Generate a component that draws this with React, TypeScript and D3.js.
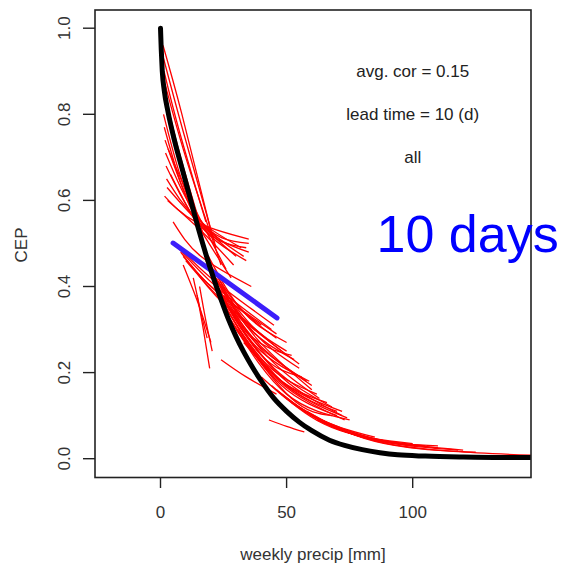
import * as d3 from "d3";

// black reference curve (weekly precip [mm] vs CEP)
const blackX = [0, 0.3, 0.7, 1.5, 3, 5.5, 8.5, 12, 15, 18, 21, 24, 27, 30, 33, 36, 40, 45, 50, 55, 60, 67, 73, 80, 87, 94, 105, 120, 135, 147];
const blackY = [1.0, 0.95, 0.9, 0.855, 0.805, 0.74, 0.675, 0.6, 0.535, 0.475, 0.42, 0.37, 0.323, 0.283, 0.248, 0.217, 0.18, 0.14, 0.11, 0.085, 0.065, 0.043, 0.031, 0.021, 0.014, 0.009, 0.006, 0.004, 0.003, 0.003];

// blue fitted segment
const blueX = [5, 46.2];
const blueY = [0.501, 0.327];

// red member curves: [start, middle, end] as [precip, CEP]
const redCurves: [number, number][][] = [
  // upper, right of black
  [[1.0, 0.96], [8.5, 0.8], [20, 0.53]],
  [[1.2, 0.93], [9, 0.76], [22, 0.49]],
  [[1.4, 0.9], [7.5, 0.76], [18, 0.55]],
  [[1.8, 0.87], [10, 0.7], [24, 0.45]],
  [[2.0, 0.84], [8, 0.7], [17, 0.52]],
  // left fan ending near 35 mm
  [[1.2, 0.8], [15, 0.56], [35, 0.5]],
  [[1.5, 0.77], [15, 0.55], [34, 0.49]],
  [[1.8, 0.74], [16, 0.55], [35, 0.48]],
  [[2.0, 0.71], [15, 0.56], [33, 0.47]],
  [[2.2, 0.68], [16, 0.54], [34, 0.46]],
  [[2.4, 0.65], [14, 0.56], [32, 0.49]],
  [[2.6, 0.63], [15, 0.55], [30, 0.47]],
  [[1.6, 0.61], [14, 0.55], [35, 0.51]],
  [[2.8, 0.6], [16, 0.53], [29, 0.45]],
  [[3.0, 0.72], [12, 0.6], [26, 0.44]],
  [[4.0, 0.66], [14, 0.55], [28, 0.42]],
  // middle group, left of black / under blue
  [[5, 0.55], [16, 0.47], [36, 0.4]],
  [[6, 0.5], [20, 0.42], [45, 0.31]],
  [[7, 0.49], [22, 0.4], [44, 0.3]],
  [[8, 0.48], [20, 0.4], [40, 0.31]],
  [[9, 0.47], [22, 0.39], [46, 0.29]],
  [[10, 0.46], [24, 0.37], [42, 0.28]],
  [[12, 0.45], [25, 0.36], [48, 0.25]],
  [[15.5, 0.4], [18, 0.32], [20.5, 0.25]],
  [[14.5, 0.38], [17, 0.3], [19.5, 0.21]],
  [[13, 0.42], [16, 0.34], [18.5, 0.28]],
  [[9, 0.45], [15, 0.36], [20, 0.27]],
  [[24, 0.23], [34, 0.19], [46, 0.15]],
  [[43, 0.09], [50, 0.075], [57, 0.062]],
  // right of black, main mass
  [[17, 0.48], [30, 0.36], [46, 0.28]],
  [[18, 0.46], [32, 0.33], [50, 0.25]],
  [[19, 0.45], [34, 0.31], [53, 0.23]],
  [[20, 0.43], [35, 0.29], [52, 0.24]],
  [[21, 0.42], [36, 0.28], [58, 0.18]],
  [[22, 0.4], [38, 0.26], [59, 0.18]],
  [[23, 0.39], [40, 0.24], [56, 0.19]],
  [[24, 0.37], [42, 0.22], [62, 0.15]],
  [[25, 0.36], [44, 0.2], [66, 0.13]],
  [[26, 0.35], [46, 0.19], [72, 0.11]],
  [[27, 0.33], [47, 0.18], [73, 0.09]],
  [[28, 0.32], [48, 0.17], [70, 0.1]],
  [[29, 0.31], [50, 0.15], [75, 0.09]],
  [[30, 0.3], [52, 0.14], [68, 0.1]],
  [[24, 0.38], [40, 0.26], [60, 0.17]],
  [[22, 0.42], [36, 0.31], [55, 0.22]],
  [[19, 0.47], [33, 0.34], [50, 0.27]],
  [[21, 0.44], [36, 0.3], [55, 0.21]],
  [[23, 0.41], [38, 0.28], [60, 0.16]],
  [[25, 0.38], [42, 0.24], [63, 0.14]],
  [[27, 0.35], [45, 0.21], [68, 0.12]],
  [[29, 0.33], [48, 0.19], [72, 0.1]],
  [[31, 0.3], [50, 0.17], [70, 0.11]],
  [[33, 0.27], [52, 0.16], [74, 0.095]],
  // tail
  [[40, 0.19], [60, 0.1], [85, 0.05]],
  [[44, 0.17], [65, 0.08], [90, 0.04]],
  [[46, 0.16], [70, 0.07], [100, 0.035]],
  [[48, 0.15], [72, 0.065], [105, 0.03]],
  [[50, 0.14], [75, 0.06], [110, 0.025]],
  [[52, 0.13], [80, 0.05], [118, 0.02]],
  [[55, 0.12], [85, 0.04], [125, 0.015]],
  [[58, 0.11], [90, 0.035], [147, 0.008]],
  [[60, 0.1], [85, 0.045], [110, 0.03]],
  [[62, 0.09], [80, 0.05], [100, 0.03]],
  [[64, 0.085], [90, 0.04], [120, 0.02]],
];

const xTicks = [0, 50, 100];
const yTicks = [0, 0.2, 0.4, 0.6, 0.8, 1.0];
const notes = ["avg. cor = 0.15", "lead time = 10 (d)", "all"];
const noteY = [0.9, 0.8, 0.7];
const noteX = 100;

const W = 562;
const H = 569;
const box = { left: 95, top: 10, right: 531, bottom: 477.5 };
const font = "'Liberation Sans', Arial, Helvetica, sans-serif";

export default function App() {
  const x = d3.scaleLinear().domain([0, 100]).range([160.5, 412.7]);
  const y = d3.scaleLinear().domain([0, 1]).range([458.7, 28.2]);

  const straight = d3
    .line<[number, number]>()
    .x((d) => x(d[0]))
    .y((d) => y(d[1]));
  const smooth = d3
    .line<[number, number]>()
    .x((d) => x(d[0]))
    .y((d) => y(d[1]))
    .curve(d3.curveMonotoneX);
  const redLine = d3
    .line<[number, number]>()
    .x((d) => x(d[0]))
    .y((d) => y(d[1]))
    .curve(d3.curveNatural);

  const blackPts = blackX.map((v, i) => [v, blackY[i]] as [number, number]);
  const bluePts = blueX.map((v, i) => [v, blueY[i]] as [number, number]);

  return (
    <svg
      width={W}
      height={H}
      style={{ position: "absolute", left: 0, top: 0, background: "#fff" }}
      fontFamily={font}
    >
      <defs>
        <clipPath id="plot">
          <rect x={box.left} y={box.top} width={box.right - box.left} height={box.bottom - box.top} />
        </clipPath>
      </defs>

      <g clipPath="url(#plot)">
        {redCurves.map((c, i) => (
          <path key={i} d={redLine(c) || ""} fill="none" stroke="#ff0000" strokeWidth={1.3} />
        ))}
        <path d={straight(bluePts) || ""} fill="none" stroke="#3c1efa" strokeWidth={5} strokeLinecap="round" />
        <path d={smooth(blackPts) || ""} fill="none" stroke="#000" strokeWidth={5} strokeLinecap="round" />
      </g>

      <rect
        x={box.left}
        y={box.top}
        width={box.right - box.left}
        height={box.bottom - box.top}
        fill="none"
        stroke="#222"
        strokeWidth={1.6}
      />

      {/* y axis */}
      {yTicks.map((t) => (
        <g key={t}>
          <line x1={83} x2={box.left} y1={y(t)} y2={y(t)} stroke="#222" strokeWidth={1.4} />
          <text
            x={70}
            y={y(t)}
            transform={`rotate(-90, 70, ${y(t)})`}
            textAnchor="middle"
            fontSize={17}
            fill="#333"
          >
            {t.toFixed(1)}
          </text>
        </g>
      ))}
      <text x={27} y={245} transform="rotate(-90, 27, 245)" textAnchor="middle" fontSize={17} fill="#333">
        CEP
      </text>

      {/* x axis */}
      {xTicks.map((t) => (
        <g key={t}>
          <line x1={x(t)} x2={x(t)} y1={box.bottom} y2={488} stroke="#222" strokeWidth={1.4} />
          <text x={x(t)} y={518} textAnchor="middle" fontSize={17} fill="#333">
            {t}
          </text>
        </g>
      ))}
      <text x={(box.left + box.right) / 2} y={560} textAnchor="middle" fontSize={17} fill="#333">
        weekly precip [mm]
      </text>

      {notes.map((n, i) => (
        <text key={n} x={x(noteX)} y={y(noteY[i])} dy="0.35em" textAnchor="middle" fontSize={17} fill="#222">
          {n}
        </text>
      ))}

      <text x={376.5} y={251.5} fontSize={52} fill="#0000ff">
        10 days
      </text>
    </svg>
  );
}
